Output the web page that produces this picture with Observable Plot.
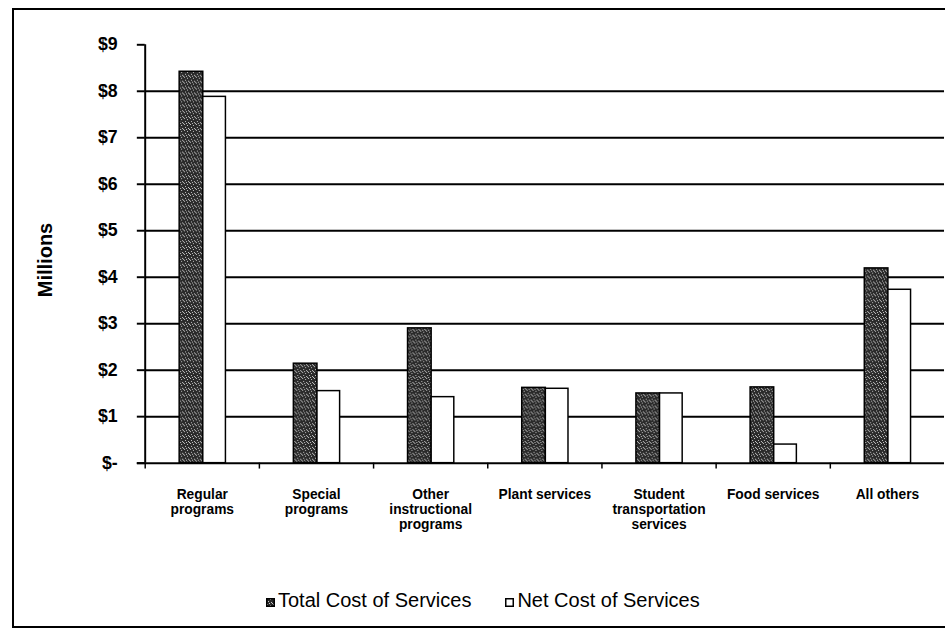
<!DOCTYPE html>
<html>
<head>
<meta charset="utf-8">
<script src="https://cdn.jsdelivr.net/npm/d3@7"></script>
<script src="https://cdn.jsdelivr.net/npm/@observablehq/plot@0.6"></script>
<style>
  html, body { margin: 0; padding: 0; background: #fff; }
  body { font-family: "Liberation Sans", Arial, sans-serif; }
  #wrap { position: relative; width: 945px; height: 636px; overflow: hidden; background: #fff; }
  #frame { position: absolute; left: 12px; top: 8px; width: 1000px; height: 620px; border: 2px solid #000; box-sizing: border-box; }
  #chart { position: absolute; left: 0; top: 0; }
  #ylabel { position: absolute; left: 45px; top: 260px; transform: translate(-50%, -50%) rotate(-90deg); font-size: 20px; font-weight: bold; white-space: nowrap; line-height: 1; }
  #legend { position: absolute; left: 266px; top: 590px; display: flex; align-items: baseline; font-size: 20px; line-height: 20px; white-space: nowrap; color: #000; }
  .item { display: inline-flex; align-items: baseline; }
  .item + .item { margin-left: 34px; }
  .sw { width: 9px; height: 9px; margin-right: 3px; display: inline-block; position: relative; top: 0px; }
</style>
</head>
<body>
<div id="wrap">
  <div id="frame"></div>
  <div id="chart"></div>
  <div id="ylabel"></div>
  <div id="legend"></div>
</div>
<script>
// ---- data ----
const categories = ["Regular programs", "Special programs", "Other instructional programs", "Plant services", "Student transportation services", "Food services", "All others"];
const categoryLabels = ["Regular\nprograms", "Special\nprograms", "Other\ninstructional\nprograms", "Plant services", "Student\ntransportation\nservices", "Food services", "All others"];
const totalCost = [8.42, 2.14, 2.90, 1.62, 1.50, 1.63, 4.19];
const netCost = [7.88, 1.55, 1.42, 1.60, 1.50, 0.40, 3.73];
const seriesNames = ["Total Cost of Services", "Net Cost of Services"];
const yTicks = [0, 1, 2, 3, 4, 5, 6, 7, 8, 9];
const gridValues = [1, 2, 3, 4, 5, 6, 7, 8];
const yAxisTitle = "Millions";

// ---- table ----
const rows = categories.map((c, i) => ({category: c, total: totalCost[i], net: netCost[i]}));
const labelOf = new Map(categories.map((c, i) => [c, categoryLabels[i]]));

const W = 960, ML = 147, MR = 1;
const bw = (W - ML - MR) / categories.length;

const svg = Plot.plot({
  width: W,
  height: 560,
  marginLeft: ML,
  marginRight: MR,
  marginTop: 45,
  marginBottom: 90,
  style: {fontFamily: "'Liberation Sans', Arial, sans-serif", color: "#000", background: "transparent", overflow: "visible"},
  x: {domain: categories, padding: 0, label: null},
  y: {domain: [0, 9], label: null},
  marks: [
    Plot.ruleY(gridValues, {stroke: "#000", strokeWidth: 2}),
    Plot.barY(rows, {x: "category", y: "total", fill: "url(#speck)", stroke: "#000", strokeWidth: 1.5, insetLeft: 35, insetRight: 57}),
    Plot.barY(rows, {x: "category", y: "net", fill: "#fff", stroke: "#000", strokeWidth: 1.5, insetLeft: 59, insetRight: 34}),
    Plot.ruleY([0], {stroke: "#000", strokeWidth: 2, insetLeft: -8}),
    Plot.ruleX(categories, {x: d => d, dx: -bw / 2, y1: 0, y2: 0, insetTop: 0, insetBottom: -6, stroke: "#000", strokeWidth: 1.5}),
    Plot.ruleX([categories[0]], {x: d => d, dx: -bw / 2, y1: 0, y2: 9, stroke: "#000", strokeWidth: 2}),
    Plot.axisY({ticks: yTicks, tickSize: 8, tickPadding: 20, strokeWidth: 2,
      tickFormat: d => d === 0 ? "$-" : "$" + d, fontSize: 18, fontWeight: "bold", label: null}),
    Plot.axisX({tickSize: 0, tickPadding: 26, tickFormat: d => labelOf.get(d),
      fontSize: 14, fontWeight: "bold", lineHeight: 1.07, label: null})
  ]
});

// speckled pattern for the dark bars
const defs = d3.select(svg).insert("defs", ":first-child");
function addPattern(sel, id) {
  const p = sel.append("pattern").attr("id", id).attr("patternUnits", "userSpaceOnUse")
    .attr("width", 6).attr("height", 6);
  p.append("rect").attr("width", 6).attr("height", 6).attr("fill", "#2a2a2a");
  [[1,0],[4,1],[2,3],[5,4],[0,5],[3,5]].forEach(([x, y]) =>
    p.append("rect").attr("x", x).attr("y", y).attr("width", 1).attr("height", 1).attr("fill", "#c8c8c8"));
}
addPattern(defs, "speck");
document.getElementById("chart").appendChild(svg);

document.getElementById("ylabel").textContent = yAxisTitle;

// legend
const legend = document.getElementById("legend");
seriesNames.forEach((name, i) => {
  const item = document.createElement("span");
  item.className = "item";
  const sw = document.createElementNS("http://www.w3.org/2000/svg", "svg");
  sw.setAttribute("class", "sw");
  sw.setAttribute("width", 9); sw.setAttribute("height", 9);
  const s = d3.select(sw);
  if (i === 0) {
    addPattern(s.append("defs"), "speck2");
    s.append("rect").attr("x", 0.75).attr("y", 0.75).attr("width", 7.5).attr("height", 7.5)
      .attr("fill", "url(#speck2)").attr("stroke", "#000").attr("stroke-width", 1.5);
  } else {
    s.append("rect").attr("x", 0.75).attr("y", 0.75).attr("width", 7.5).attr("height", 7.5)
      .attr("fill", "#fff").attr("stroke", "#000").attr("stroke-width", 1.5);
  }
  item.appendChild(sw);
  const t = document.createElement("span");
  t.textContent = name;
  item.appendChild(t);
  legend.appendChild(item);
});
</script>
</body>
</html>
